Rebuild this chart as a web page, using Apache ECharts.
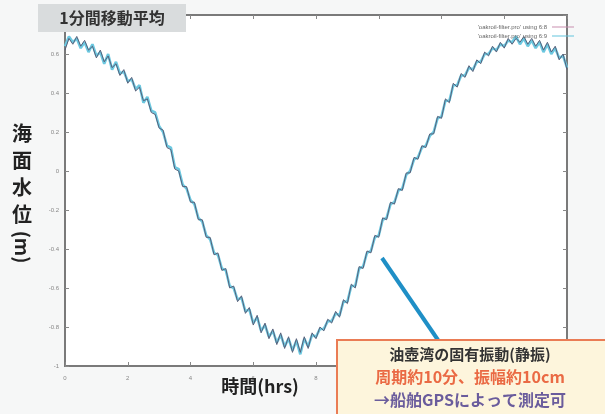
<!DOCTYPE html>
<html>
<head>
<meta charset="utf-8">
<script src="https://cdn.jsdelivr.net/npm/echarts@6/dist/echarts.min.js"></script>
<style>
  html, body { margin: 0; padding: 0; background: #f6f7f7; }
  #chart { width: 605px; height: 414px; }
</style>
</head>
<body>
<div id="chart"></div>
<script>
// 読み取り値 (0.125時間刻み, 0〜16 hrs)
var step = 0.125;
var seriesNames = ["'oakroil-filter.pro' using 6:8", "'oakroil-filter.pro' using 6:9"];
var levelA = [
  0.62,0.68,0.65,0.69,0.64,0.67,0.62,0.64,0.58,0.62,0.56,0.59,0.53,0.55,0.49,0.52,
  0.45,0.48,0.41,0.43,0.36,0.37,0.30,0.29,0.22,0.21,0.12,0.11,0.01,0.00,-0.08,-0.08,
  -0.16,-0.16,-0.25,-0.25,-0.34,-0.34,-0.43,-0.42,-0.51,-0.50,-0.60,-0.59,-0.67,-0.64,-0.73,-0.70,
  -0.79,-0.74,-0.83,-0.78,-0.86,-0.81,-0.89,-0.83,-0.91,-0.85,-0.93,-0.86,-0.93,-0.85,-0.91,-0.83,
  -0.86,-0.80,-0.82,-0.76,-0.78,-0.72,-0.75,-0.66,-0.68,-0.58,-0.60,-0.49,-0.50,-0.41,-0.42,-0.33,
  -0.34,-0.24,-0.25,-0.16,-0.17,-0.09,-0.10,-0.01,-0.01,0.07,0.06,0.13,0.12,0.19,0.19,0.28,
  0.27,0.37,0.35,0.45,0.43,0.50,0.48,0.54,0.51,0.57,0.55,0.61,0.59,0.64,0.61,0.66,
  0.63,0.68,0.65,0.68,0.66,0.69,0.65,0.68,0.64,0.67,0.62,0.66,0.61,0.64,0.57,0.60,0.52
];
var levelB = [
  0.64,0.69,0.66,0.68,0.63,0.66,0.61,0.65,0.59,0.61,0.55,0.60,0.52,0.56,0.50,0.51,
  0.46,0.47,0.42,0.44,0.35,0.38,0.31,0.30,0.23,0.20,0.13,0.12,0.02,0.01,-0.07,-0.09,
  -0.15,-0.17,-0.24,-0.26,-0.33,-0.35,-0.42,-0.43,-0.50,-0.51,-0.59,-0.60,-0.66,-0.65,-0.72,-0.71,
  -0.78,-0.75,-0.82,-0.79,-0.85,-0.82,-0.88,-0.84,-0.90,-0.86,-0.92,-0.87,-0.94,-0.86,-0.90,-0.84,
  -0.85,-0.81,-0.81,-0.77,-0.77,-0.73,-0.74,-0.67,-0.67,-0.59,-0.59,-0.50,-0.49,-0.42,-0.41,-0.34,
  -0.33,-0.25,-0.24,-0.17,-0.16,-0.10,-0.09,-0.02,0.00,0.06,0.07,0.12,0.13,0.18,0.20,0.27,
  0.28,0.36,0.36,0.44,0.44,0.49,0.49,0.53,0.52,0.56,0.56,0.60,0.60,0.63,0.62,0.65,
  0.64,0.67,0.66,0.69,0.65,0.68,0.64,0.67,0.63,0.66,0.61,0.65,0.60,0.63,0.58,0.59,0.53
];
var xTicks = [0, 2, 4, 6, 8, 10, 12, 14, 16];
var yTicks = [-1, -0.8, -0.6, -0.4, -0.2, 0, 0.2, 0.4, 0.6, 0.8];

function toPairs(arr) {
    var out = [];
    arr.forEach(function (v, i) { out.push([i * step, v]); });
    return out;
}

var chart = echarts.init(document.getElementById('chart'));
var jp = '"Noto Sans CJK JP", "Noto Sans", sans-serif';

var axisLine = { show: true, onZero: false, lineStyle: { color: '#7a7a7a', width: 2 } };
var tick = { show: true, inside: true, length: 4, lineStyle: { color: '#888' } };

var option = {
    backgroundColor: '#f6f7f7',
    animation: false,
    grid: {
        left: 65, right: 38, top: 15, bottom: 48,
        show: true, backgroundColor: '#ffffff', borderColor: '#7a7a7a', borderWidth: 2
    },
    legend: {
        orient: 'vertical', right: 26, top: 19, itemGap: 3,
        itemWidth: 22, itemHeight: 6, align: 'right',
        icon: 'path://M0,0 L22,0 L22,1 L0,1 Z',
        textStyle: { fontSize: 6, color: '#666' },
        data: seriesNames
    },
    xAxis: [{
        type: 'value', min: 0, max: 16, interval: 2,
        axisLine: axisLine, axisTick: tick, splitLine: { show: false },
        axisLabel: { fontSize: 6, color: '#888', margin: 9,
            formatter: function (v) { return xTicks.indexOf(v) >= 0 ? String(v) : ''; } }
    }, {
        type: 'value', min: 0, max: 16, interval: 2, position: 'top',
        axisLine: axisLine, axisTick: tick, splitLine: { show: false },
        axisLabel: { show: false }
    }],
    yAxis: [{
        type: 'value', min: -1, max: 0.8, interval: 0.2,
        axisLine: axisLine, axisTick: tick, splitLine: { show: false },
        axisLabel: { fontSize: 6, color: '#888', margin: 6,
            formatter: function (v) {
                var r = Math.round(v * 10) / 10;
                return yTicks.indexOf(r) >= 0 && r < 0.8 ? String(r) : '';
            } }
    }, {
        type: 'value', min: -1, max: 0.8, interval: 0.2, position: 'right',
        axisLine: axisLine, axisTick: tick, splitLine: { show: false },
        axisLabel: { show: false }
    }],
    series: [{
        name: seriesNames[1], type: 'line', data: toPairs(levelB),
        showSymbol: false, z: 2, color: '#62c4dd',
        lineStyle: { color: '#6cc8e0', width: 2.6 }
    }, {
        name: seriesNames[0], type: 'line', data: toPairs(levelA),
        showSymbol: false, z: 3, color: '#c98fae',
        lineStyle: { color: '#56607a', width: 1 }
    }],
    graphic: [
        // タイトル
        { type: 'rect', shape: { x: 38, y: 4, width: 148, height: 28 }, style: { fill: '#d9dcdd' }, z: 10 },
        { type: 'text', x: 112, y: 18, z: 11,
          style: { text: '1分間移動平均', font: 'bold 16px ' + jp, fill: '#333', align: 'center', verticalAlign: 'middle' } },
        // 縦軸ラベル
        { type: 'text', x: 22, y: 120, z: 11,
          style: { text: '海\n面\n水\n位', font: 'bold 20px ' + jp, lineHeight: 27, fill: '#222', align: 'center', verticalAlign: 'top' } },
        { type: 'text', x: 22, y: 247, rotation: -Math.PI / 2, z: 11,
          style: { text: '(m)', font: 'bold 19px ' + jp, fill: '#222', align: 'center', verticalAlign: 'middle' } },
        // 横軸ラベル
        { type: 'text', x: 260, y: 386, z: 11,
          style: { text: '時間(hrs)', font: 'bold 18px ' + jp, fill: '#222', align: 'center', verticalAlign: 'middle' } },
        // 矢印
        { type: 'line', shape: { x1: 382, y1: 258, x2: 438, y2: 340 }, style: { stroke: '#1f8fc6', lineWidth: 4 }, z: 12 },
        // 注釈
        { type: 'rect', shape: { x: 337, y: 340, width: 275, height: 80 },
          style: { fill: '#fdf5dc', stroke: '#ea7c55', lineWidth: 2 }, z: 13 },
        { type: 'text', x: 470, y: 354, z: 14,
          style: { text: '油壺湾の固有振動(静振)', font: 'bold 15px ' + jp, fill: '#333', align: 'center', verticalAlign: 'middle' } },
        { type: 'text', x: 470, y: 377, z: 14,
          style: { text: '周期約10分、振幅約10cm', font: 'bold 16px ' + jp, fill: '#ea6a44', align: 'center', verticalAlign: 'middle' } },
        { type: 'text', x: 470, y: 400, z: 14,
          style: { text: '→船舶GPSによって測定可', font: 'bold 16px ' + jp, fill: '#6a5c9c', align: 'center', verticalAlign: 'middle' } }
    ]
};

chart.setOption(option);
</script>
</body>
</html>
